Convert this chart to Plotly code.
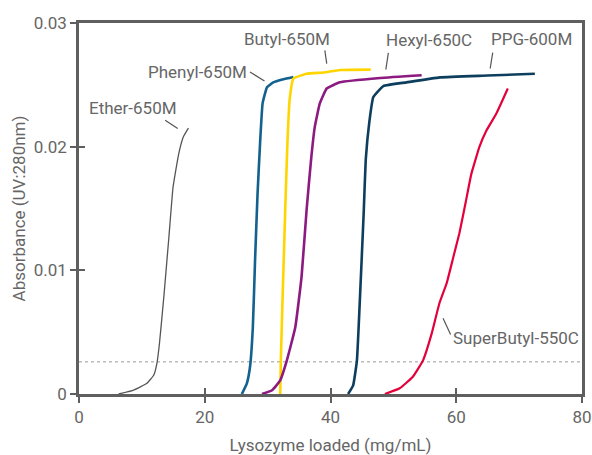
import plotly.graph_objects as go

# ---- data ----
ether_x = [6.3, 8.7, 10.8, 11.9, 12.4, 12.8, 13.5, 14.3, 14.95, 15.85, 16.6, 17.4]
ether_y = [0, 0.00032, 0.00086, 0.00154, 0.0025, 0.0041, 0.0079, 0.0127, 0.0167, 0.0194, 0.0208, 0.0215]

phenyl_x = [25.9, 26.7, 27.2, 27.65, 28.0, 28.4, 28.8, 29.2, 29.9, 30.9, 32.5, 34.1]
phenyl_y = [0, 0.00086, 0.0022, 0.0054, 0.0108, 0.0162, 0.0203, 0.0235, 0.0248, 0.0252, 0.02545, 0.02564]

butyl_x = [32.0, 32.1, 32.4, 32.8, 33.15, 33.5, 34.1, 36.2, 38.9, 41.5, 46.4]
butyl_y = [0, 0.0027, 0.0081, 0.0149, 0.0203, 0.0238, 0.0255, 0.0259, 0.0260, 0.0262, 0.02623]

hexyl_x = [29.1, 30.7, 32.0, 33.05, 34.4, 35.4, 36.2, 36.9, 37.5, 38.3, 39.4, 41.5, 47.9, 54.5]
hexyl_y = [0, 0.0003, 0.0011, 0.0027, 0.0054, 0.0095, 0.0149, 0.0189, 0.0216, 0.0235, 0.0247, 0.0252, 0.02555, 0.02577]

ppg_x = [42.8, 43.6, 44.2, 44.6, 44.95, 45.3, 45.6, 46.2, 46.8, 48.4, 52.1, 57.4, 65.0, 72.5]
ppg_y = [0, 0.0007, 0.0027, 0.0068, 0.0108, 0.0149, 0.0189, 0.0221, 0.0240, 0.0249, 0.0252, 0.0256, 0.02575, 0.0259]

superbutyl_x = [48.65, 51.0, 53.1, 54.7, 56.1, 57.3, 58.5, 59.5, 60.5, 61.5, 62.4, 63.7, 64.8, 66.4, 68.2]
superbutyl_y = [0, 0.00046, 0.0014, 0.0027, 0.0049, 0.0073, 0.0090, 0.0110, 0.0130, 0.0155, 0.0178, 0.0200, 0.0213, 0.0227, 0.0247]

threshold_y = 0.0026

x_ticks = [0, 20, 40, 60, 80]
y_ticks = [0, 0.01, 0.02, 0.03]
y_ticklabels = ["0", "0.01", "0.02", "0.03"]

series = [
    ("Ether-650M", ether_x, ether_y, "#555555", 1.3),
    ("Phenyl-650M", phenyl_x, phenyl_y, "#13618e", 2.6),
    ("Butyl-650M", butyl_x, butyl_y, "#ffd500", 2.6),
    ("Hexyl-650C", hexyl_x, hexyl_y, "#8c1a80", 2.6),
    ("PPG-600M", ppg_x, ppg_y, "#0d3e5e", 2.6),
    ("SuperButyl-550C", superbutyl_x, superbutyl_y, "#e4003b", 2.2),
]

labels = [
    # text, x, y, leader x0, y0, x1, y1
    ("Ether-650M", 8.57, 0.02313, 13.7, 0.02214, 15.7, 0.02147),
    ("Phenyl-650M", 18.9, 0.02604, 27.2, 0.02604, 29.5, 0.02531),
    ("Butyl-650M", 33.1, 0.02868, 39.1, 0.02779, 39.4, 0.02672),
    ("Hexyl-650C", 55.6, 0.02866, 49.2, 0.02758, 48.8, 0.02623),
    ("PPG-600M", 71.9, 0.02868, 65.8, 0.02761, 65.4, 0.02632),
    ("SuperButyl-550C", 69.5, 0.00455, 57.9, 0.00612, 59.1, 0.00482),
]

FONT = "Roboto, Liberation Sans Narrow, sans-serif"
AX = "#5f5f5f"
TXT = "#666666"

fig = go.Figure()
for name, xs, ys, col, w in series:
    fig.add_trace(go.Scatter(x=xs, y=ys, mode="lines", name=name,
                             line=dict(color=col, width=w, shape="spline", smoothing=0.35),
                             showlegend=False))

fig.add_shape(type="line", x0=0, x1=80, y0=threshold_y, y1=threshold_y,
              line=dict(color="#999999", width=1, dash="dot"), layer="below")

for t, tx, ty, lx0, ly0, lx1, ly1 in labels:
    fig.add_annotation(x=tx, y=ty, text=t, showarrow=False,
                       xanchor="center", yanchor="middle",
                       font=dict(family=FONT, size=17, color=TXT))
    fig.add_shape(type="line", x0=lx0, y0=ly0, x1=lx1, y1=ly1,
                  line=dict(color="#555555", width=1.2))

fig.update_layout(
    width=592, height=455,
    margin=dict(l=79, r=10, t=23, b=61, autoexpand=False),
    paper_bgcolor="white", plot_bgcolor="white",
    font=dict(family=FONT, size=17, color=TXT),
    xaxis=dict(range=[0, 80], tickvals=x_ticks, ticks="outside", ticklen=6,
               tickwidth=2, tickcolor=AX, showline=True, linecolor=AX,
               linewidth=2.5, mirror=True, showgrid=False, zeroline=False,
               automargin=False,
               title=dict(text="Lysozyme loaded (mg/mL)", standoff=14,
                          font=dict(size=17, color=TXT)),
               tickfont=dict(size=17, color=TXT)),
    yaxis=dict(range=[0, 0.03], tickvals=y_ticks, ticktext=y_ticklabels,
               ticks="outside", ticklen=6, tickwidth=2, tickcolor=AX,
               showline=True, linecolor=AX, linewidth=2.5, mirror=True,
               showgrid=False, zeroline=False, automargin=False,
               title=dict(text="Absorbance (UV:280nm)", standoff=4,
                          font=dict(size=17, color=TXT)),
               tickfont=dict(size=17, color=TXT)),
    xaxis2=dict(range=[0, 80], tickvals=x_ticks, ticks="inside", ticklen=6,
                tickwidth=2, tickcolor=AX, showticklabels=False, showgrid=False,
                zeroline=False, overlaying="x", side="bottom", anchor="y"),
    yaxis2=dict(range=[0, 0.03], tickvals=y_ticks, ticks="inside", ticklen=6,
                tickwidth=2, tickcolor=AX, showticklabels=False, showgrid=False,
                zeroline=False, overlaying="y", side="left", anchor="x"),
)
fig.add_trace(go.Scatter(x=[None], y=[None], xaxis="x2", yaxis="y2",
                         showlegend=False, hoverinfo="skip"))

fig.write_html("out.html")
